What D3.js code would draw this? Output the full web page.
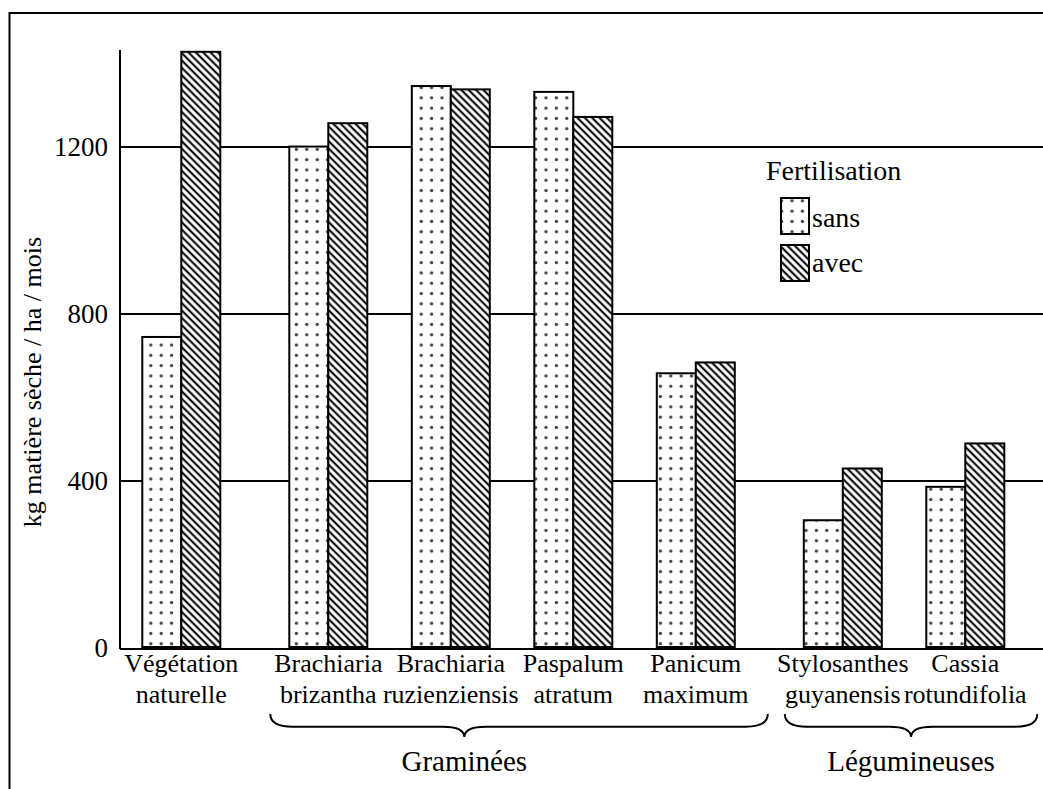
<!DOCTYPE html>
<html>
<head>
<meta charset="utf-8">
<script src="https://cdn.jsdelivr.net/npm/d3@7/dist/d3.min.js"></script>
<style>
  body { margin: 0; background: #fff; }
</style>
</head>
<body>
<div id="chart"></div>
<script>
// data (kg matière sèche / ha / mois)
var categories = [
  ["Végétation", "naturelle"],
  ["Brachiaria", "brizantha"],
  ["Brachiaria", "ruzienziensis"],
  ["Paspalum", "atratum"],
  ["Panicum", "maximum"],
  ["Stylosanthes", "guyanensis"],
  ["Cassia", "rotundifolia"]
];
var groupOf = [0, 1, 1, 1, 1, 2, 2];
var sans = [745, 1201, 1346, 1332, 658, 306, 386];
var avec = [1428, 1257, 1338, 1272, 684, 430, 490];
var groupNames = ["Graminées", "Légumineuses"];
var groupFrom = [1, 5];
var groupTo = [4, 6];
var yTicks = [0, 400, 800, 1200];
var series = ["sans", "avec"];

var width = 1043, height = 789;
var serif = "'Liberation Serif', 'Times New Roman', Times, 'DejaVu Serif', serif";

var svg = d3.select("#chart").append("svg")
  .attr("width", width)
  .attr("height", height)
  .style("font-family", serif);

var defs = svg.append("defs");

// dotted fill for "sans"
var dots = defs.append("pattern")
  .attr("id", "dots")
  .attr("patternUnits", "userSpaceOnUse")
  .attr("width", 10.4).attr("height", 10.3);
dots.append("rect").attr("width", 10.4).attr("height", 10.3).attr("fill", "#fff");
dots.append("circle").attr("cx", 5.2).attr("cy", 5.2).attr("r", 1.7).attr("fill", "#444");

// diagonal hatch for "avec"
var hatch = defs.append("pattern")
  .attr("id", "hatch")
  .attr("patternUnits", "userSpaceOnUse")
  .attr("width", 5.2).attr("height", 10)
  .attr("patternTransform", "rotate(-45)");
hatch.append("rect").attr("width", 5.2).attr("height", 10).attr("fill", "#fff");
hatch.append("line").attr("x1", 2.6).attr("x2", 2.6).attr("y1", 0).attr("y2", 10)
  .attr("stroke", "#111").attr("stroke-width", 2.2);

var fills = { sans: "url(#dots)", avec: "url(#hatch)" };

// outer frame (runs off the right and bottom edge like the scan)
svg.append("rect")
  .attr("x", 9.5).attr("y", 13)
  .attr("width", 1100).attr("height", 900)
  .attr("fill", "none").attr("stroke", "#000").attr("stroke-width", 2);

// slot position: index plus a small gap between groups
var gap = 0.2;
function slot(i) { return i + gap * groupOf[i]; }

var x = d3.scaleLinear()
  .domain([0, slot(categories.length - 1)])
  .range([181.3, 181.3 + 122.5 * slot(categories.length - 1)]);

var y = d3.scaleLinear().domain([0, 1200]).range([648, 147]);

var barW = 39;
var axisX = 120;

function txt(sel, size) {
  return sel.style("font-family", serif).style("font-size", size + "px").attr("fill", "#000");
}

// gridlines
svg.selectAll(".grid")
  .data(yTicks.filter(function(d) { return d > 0; }))
  .enter().append("line")
  .attr("class", "grid")
  .attr("x1", axisX).attr("x2", width)
  .attr("y1", function(d) { return y(d); })
  .attr("y2", function(d) { return y(d); })
  .attr("stroke", "#000").attr("stroke-width", 1.8);

// bars
var rows = categories.map(function(c, i) {
  return { i: i, sans: sans[i], avec: avec[i] };
});

series.forEach(function(s, k) {
  svg.selectAll(".bar-" + s)
    .data(rows)
    .enter().append("rect")
    .attr("class", "bar-" + s)
    .attr("x", function(d) { return x(slot(d.i)) - barW + k * barW; })
    .attr("y", function(d) { return y(d[s]); })
    .attr("width", barW)
    .attr("height", function(d) { return y(0) - y(d[s]) - 1; })
    .attr("fill", fills[s])
    .attr("stroke", "#000").attr("stroke-width", 2);
});

// axes lines
svg.append("line")
  .attr("x1", axisX).attr("x2", axisX)
  .attr("y1", 50).attr("y2", y(0) + 1)
  .attr("stroke", "#000").attr("stroke-width", 2);
svg.append("line")
  .attr("x1", axisX).attr("x2", width)
  .attr("y1", y(0) + 1).attr("y2", y(0) + 1)
  .attr("stroke", "#000").attr("stroke-width", 2);

// tick labels
txt(svg.selectAll(".ytick")
  .data(yTicks)
  .enter().append("text")
  .attr("class", "ytick")
  .attr("x", 108)
  .attr("y", function(d) { return y(d); })
  .attr("dy", "0.34em")
  .attr("text-anchor", "end"), 27)
  .text(function(d) { return d; });

// y title
txt(svg.append("text")
  .attr("transform", "translate(41,382) rotate(-90)")
  .attr("text-anchor", "middle"), 26)
  .text("kg matière sèche / ha / mois");

// category labels
var cat = txt(svg.selectAll(".cat")
  .data(categories)
  .enter().append("text")
  .attr("class", "cat")
  .attr("text-anchor", "middle"), 26);
cat.append("tspan")
  .attr("x", function(d, i) { return x(slot(i)); })
  .attr("y", 672)
  .text(function(d) { return d[0]; });
cat.append("tspan")
  .attr("x", function(d, i) { return x(slot(i)); })
  .attr("y", 703)
  .text(function(d) { return d[1]; });

// braces under the groups (tip not always centred, as drawn by hand)
var tipFrac = [0.39, 0.5];
function brace(x0, x1, mid, top, depth) {
  var h = top + depth * 0.55, r = 22;
  return "M" + x0 + "," + top +
    " Q" + x0 + "," + h + " " + (x0 + r) + "," + h +
    " L" + (mid - r) + "," + h +
    " Q" + mid + "," + h + " " + mid + "," + (top + depth) +
    " Q" + mid + "," + h + " " + (mid + r) + "," + h +
    " L" + (x1 - r) + "," + h +
    " Q" + x1 + "," + h + " " + x1 + "," + top;
}

groupNames.forEach(function(name, g) {
  var x0 = x(slot(groupFrom[g])) - 58;
  var x1 = x(slot(groupTo[g])) + 72;
  var mid = x0 + tipFrac[g] * (x1 - x0);
  svg.append("path")
    .attr("d", brace(x0, x1, mid, 714, 23))
    .attr("fill", "none").attr("stroke", "#000").attr("stroke-width", 2);
  txt(svg.append("text")
    .attr("x", mid).attr("y", 771)
    .attr("text-anchor", "middle"), 29)
    .text(name);
});

// legend
var legend = svg.append("g").attr("transform", "translate(766,0)");
txt(legend.append("text")
  .attr("x", 0).attr("y", 180), 28)
  .text("Fertilisation");
series.forEach(function(s, k) {
  legend.append("rect")
    .attr("x", 15).attr("y", 198 + k * 47)
    .attr("width", 28).attr("height", 36)
    .attr("fill", fills[s])
    .attr("stroke", "#000").attr("stroke-width", 2);
  txt(legend.append("text")
    .attr("x", 46).attr("y", 227 + k * 45), 28)
    .text(s);
});
</script>
</body>
</html>
